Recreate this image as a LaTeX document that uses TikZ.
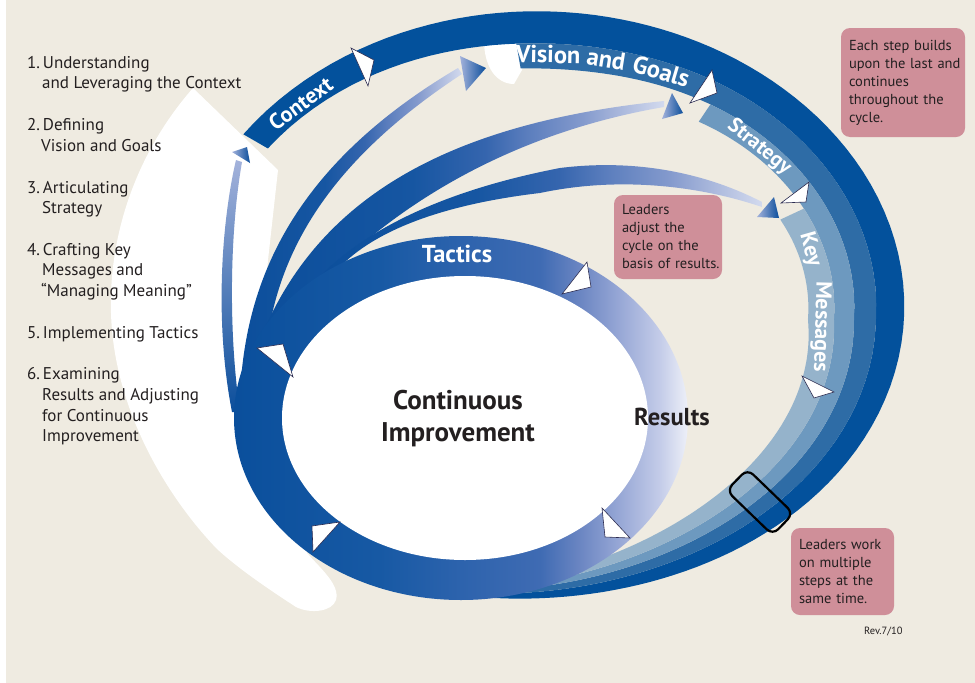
\documentclass[tikz,border=0pt]{standalone}
\usepackage{fontspec}
\setmainfont{PT Sans}
\definecolor{cBeige}{HTML}{EFEBE1}
\definecolor{cDark}{HTML}{03519C}
\definecolor{cVis}{HTML}{2E6CA6}
\definecolor{cStr}{HTML}{6D99BF}
\definecolor{cKey}{HTML}{95B3CB}
\definecolor{cPink}{HTML}{CF8F99}
\definecolor{cTxt}{HTML}{231F20}
\definecolor{cOut}{HTML}{2B2B50}
\definecolor{rA}{HTML}{0A4F9C}
\definecolor{rB}{HTML}{1759A4}
\definecolor{rC}{HTML}{2D63AD}
\definecolor{rD}{HTML}{3F6BB3}
\definecolor{rE}{HTML}{6A85C2}
\definecolor{rF}{HTML}{98A8D6}
\definecolor{rG}{HTML}{C5CDE9}
\definecolor{rH}{HTML}{EEF0F8}
\definecolor{fA}{HTML}{0B4E9B}
\definecolor{fB}{HTML}{1656A2}
\definecolor{fC}{HTML}{3565AE}
\definecolor{fD}{HTML}{5A7DBD}
\definecolor{fE}{HTML}{849ACD}
\definecolor{fF}{HTML}{A5B4DA}
\definecolor{fG}{HTML}{D3DAEE}
\definecolor{aLight}{HTML}{A3B2DB}
\pgfdeclarehorizontalshading{ringshade}{100bp}{color(0bp)=(rA); color(25bp)=(rA); color(41bp)=(rB); color(50bp)=(rC); color(58.7bp)=(rD); color(63bp)=(rE); color(67.5bp)=(rF); color(72bp)=(rG); color(75bp)=(rH); color(100bp)=(rH)}
\pgfdeclarehorizontalshading{fanshade}{100bp}{color(0bp)=(fA); color(25bp)=(fA); color(44bp)=(fB); color(53bp)=(fC); color(58bp)=(fD); color(65bp)=(fE); color(69bp)=(fF); color(75bp)=(fG); color(100bp)=(fG)}
\newcommand\ctxfont{\fontsize{22}{22}\selectfont\bfseries}
\newcommand\visfont{\fontsize{24.5}{24.5}\selectfont\bfseries}
\newcommand\strfont{\fontsize{21}{21}\selectfont\bfseries}
\newcommand\keyfont{\fontsize{22}{22}\selectfont\bfseries}
\newcommand\listfont{\fontsize{17}{20}\selectfont}
\newcommand\boxfont{\fontsize{14.5}{18}\selectfont}
\newcommand\bigfont{\fontsize{27}{27}\selectfont\bfseries}
\newcommand\resfont{\fontsize{24.5}{24.5}\selectfont\bfseries}
\newcommand\spiralband[5]{%
  \fill[#1] plot[domain=#2:#3,samples=110] ({565+spr(\x,#4)*cos(\x)},{320+spr(\x,#4)*sin(\x)})
    -- plot[domain=#3:#2,samples=110] ({565+spr(\x,#5)*cos(\x)},{320+spr(\x,#5)*sin(\x)}) -- cycle;}
% font, angle, offset, word, rotation, name
\newcommand\bandword[6]{%
  \node[bandtxt,font=#1,rotate=#5] (#6) at ({565+spr(#2,#3)*cos(#2)},{320+spr(#2,#3)*sin(#2)}) {#4};}
\begin{document}
\begin{tikzpicture}[x=1pt,y=-1pt,
  declare function={
    ellr(\ang)=100/sqrt(cos(\ang)*cos(\ang)/11.56+sin(\ang)*sin(\ang)/7.6176);
    spf(\ang)=0.99667-0.10116*(\ang/100)+0.07675*(\ang/100)*(\ang/100)+0.04745*(\ang/100)*(\ang/100)*(\ang/100);
    sps(\ang)=ellr(\ang)*spf(\ang);
    spk(\ang)=(1+0.15*exp(-min(9,((\ang+95)/35)*((\ang+95)/35))))*max(0,min(1,1-\ang/125));
    spr(\ang,\wid)=sps(\ang)-\wid*spk(\ang);
  },
  wtri/.style={fill=white,draw=cOut,line width=0.6pt,line join=miter},
  btri/.style={left color=aLight,right color=fA},
  bandtxt/.style={anchor=base,inner sep=0pt,text=white},
  pinkbox/.style={fill=cPink,rounded corners=9pt,inner xsep=8pt,inner ysep=0pt,align=left,text=cTxt,font=\boxfont},
  listtxt/.style={anchor=base west,inner sep=0pt,text=cTxt,font=\listfont},
  bigtxt/.style={anchor=base,inner sep=0pt,text=cTxt,font=\bigfont}]
\useasboundingbox (0,0) rectangle (975,683);
\fill[white] (0,0) rectangle (975,683);
\fill[cBeige] (6,0) rectangle (975,683);
% white sweep on the left
\fill[white] (193,88) -- (278,170) -- (268,260) -- (262,330) -- (300,430) -- (307,553)
  .. controls (322,570) and (340,585) .. (336,600)
  .. controls (332,612) and (310,614) .. (296,607)
  .. controls (270,590) and (240,570) .. (217,549)
  .. controls (170,500) and (120,420) .. (112,330)
  .. controls (105,250) and (130,160) .. (193,88) -- cycle;
% white cap at start of Vision band
\fill[white] (484,40) -- (522,40) -- (522,70) -- (514,84) .. controls (497,84) and (484,68) .. (484,40) -- cycle;
% spiral bands
\spiralband{cDark}{-150}{125}{0}{28}
\spiralband{cVis}{-100}{125}{28}{50}
\spiralband{cStr}{-56}{125}{50}{70}
\spiralband{cKey}{-25}{125}{70}{96}
% fan arcs
\shade[shading=fanshade] (240,395) .. controls (245,290) and (285,170) .. (458,68) -- (462,74)
  .. controls (300,180) and (262,290) .. (264,400) -- cycle;
\shade[shading=fanshade] (258,345) .. controls (310,210) and (430,125) .. (664,101) -- (664,107)
  .. controls (500,135) and (380,215) .. (305,300) -- cycle;
\shade[shading=fanshade] (300,300) .. controls (340,245) and (420,195) .. (560,168)
  .. controls (640,158) and (710,175) .. (762,202) -- (762,207)
  .. controls (700,186) and (620,176) .. (540,193)
  .. controls (455,203) and (385,225) .. (345,262) -- (320,330) -- cycle;
\shade[top color=aLight,bottom color=fA] (236,160) .. controls (222,220) and (214,320) .. (232,412)
  -- (240,412) .. controls (228,330) and (230,230) .. (242,162) -- cycle;
% tactics ring
\shade[shading=ringshade] (461,418) ellipse [x radius=227pt, y radius=182pt];
\fill[white] (465,418) ellipse [x radius=183pt, y radius=142pt];
% band labels, word by word along the spiral
\bandword{\ctxfont}{-141}{24}{Context}{36}{wctx}
\bandword{\visfont}{-93.8}{45}{Vision}{-1}{wvisa}
\bandword{\visfont}{-81}{45}{and}{-9}{wvisb}
\bandword{\visfont}{-68.7}{45}{Goals}{-16.5}{wvisc}
\bandword{\strfont}{-41.5}{66}{Strategy}{-39}{wstr}
\bandword{\keyfont}{-16}{89}{Key}{-74}{wkeya}
\bandword{\keyfont}{1.5}{89}{Messages}{-91.5}{wkeyb}
% white arrowheads
\draw[wtri] (351,48) -- (374,60) -- (368,86) -- cycle;
\draw[wtri] (712,70) -- (717,93) -- (690,103) -- cycle;
\draw[wtri] (809,182) -- (806,202) -- (781,203) -- cycle;
\draw[wtri] (802,376) -- (834,392) -- (814,398) -- cycle;
\draw[wtri] (587,262) -- (591,287) -- (562,294) -- cycle;
\draw[wtri] (602,508) -- (630,538) -- (605,537) -- cycle;
\draw[wtri] (312,526) -- (340,522) -- (313,552) -- cycle;
\draw[wtri] (257,348) -- (283,344) -- (293,377) -- cycle;
% blue gradient arrowheads
\shade[btri] (232,152) -- (247,147) -- (250,163) -- cycle;
\shade[btri] (460,56) -- (486,68) -- (466,91) -- cycle;
\shade[btri] (672,93) -- (683,113) -- (662,119) -- cycle;
\shade[btri] (774,197) -- (779,218) -- (757,217) -- cycle;
% marker on the bands
\node[draw=black,line width=2.2pt,rounded corners=8pt,rotate=-44,minimum width=64pt,minimum height=30pt,inner sep=0pt] (mark) at (760,502) {};
% centre texts
\node[bigtxt] (ci1) at (458,409) {Continuous};
\node[bigtxt] (ci2) at (458,441) {Improvement};
\node[anchor=base,inner sep=0pt,text=cTxt,font=\resfont] (res) at (672,425) {Results};
\node[anchor=base,inner sep=0pt,text=white,font=\resfont] (tac) at (457,262) {Tactics};
% notes
\node[pinkbox,minimum width=124pt,minimum height=109pt,text width=108pt] (note1) at (903,82.5)
  {\mbox{Each step builds}\\\mbox{upon the last and}\\\mbox{continues}\\\mbox{throughout the}\\\mbox{cycle.}};
\node[pinkbox,minimum width=108pt,minimum height=84pt,text width=92pt] (note2) at (668,237)
  {\mbox{Leaders}\\\mbox{adjust the}\\\mbox{cycle on the}\\\mbox{basis of results.}};
\node[pinkbox,minimum width=103pt,minimum height=87pt,text width=87pt] (note3) at (842.5,571.5)
  {\mbox{Leaders work}\\\mbox{on multiple}\\\mbox{steps at the}\\\mbox{same time.}};
\node[anchor=base west,inner sep=0pt,text=cTxt,font=\fontsize{10.5}{12}\selectfont] (rev) at (864,634) {Rev.7/10};
% list
\node[listtxt] (l1a) at (27,68) {1.\,Understanding};
\node[listtxt] (l1b) at (42,88) {and Leveraging the Context};
\node[listtxt] (l2a) at (27,130) {2.\,Defining};
\node[listtxt] (l2b) at (41,151) {Vision and Goals};
\node[listtxt] (l3a) at (27,193) {3.\,Articulating};
\node[listtxt] (l3b) at (42,213) {Strategy};
\node[listtxt] (l4a) at (27,255) {4.\,Crafting Key};
\node[listtxt] (l4b) at (42,275) {Messages and};
\node[listtxt] (l4c) at (41,296) {“Managing Meaning”};
\node[listtxt] (l5a) at (27,338) {5.\,Implementing Tactics};
\node[listtxt] (l6a) at (27,379) {6.\,Examining};
\node[listtxt] (l6b) at (42,400) {Results and Adjusting};
\node[listtxt] (l6c) at (42,421) {for Continuous};
\node[listtxt] (l6d) at (42,441) {Improvement};
\end{tikzpicture}
\end{document}
